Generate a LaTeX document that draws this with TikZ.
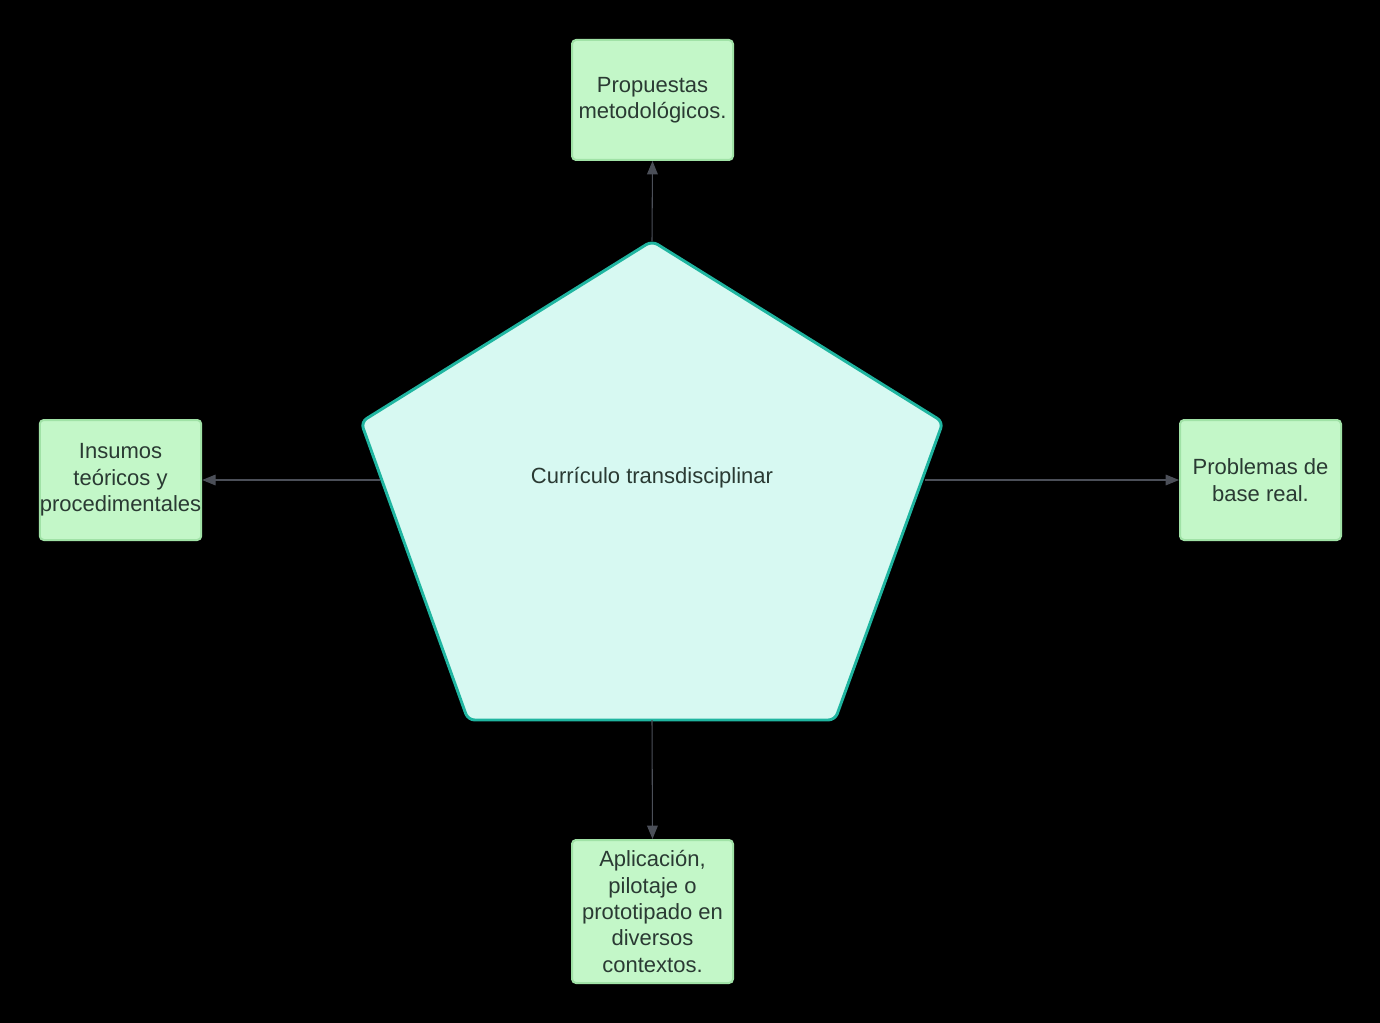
\documentclass[tikz,border=0pt]{standalone}
\usepackage{fontspec}
\setmainfont{Liberation Sans}
\usetikzlibrary{arrows.meta}
\definecolor{boxfill}{HTML}{C3F7C8}
\definecolor{boxline}{HTML}{A0E2A6}
\definecolor{pentfill}{HTML}{D7F9F2}
\definecolor{pentline}{HTML}{1FB5A0}
\definecolor{txt}{HTML}{2A3A33}
\definecolor{conn}{HTML}{4B4F58}
\tikzset{
  box/.style={draw=boxline, fill=boxfill, line width=1.5pt, rounded corners=3pt,
    minimum width=120.75pt, minimum height=90pt, inner sep=0pt, align=center,
    text=txt, font=\fontsize{16.5}{19.8}\selectfont},
  conn/.style={draw=conn, line width=0.8pt, -{Triangle[length=10pt,width=8pt]}},
}
\begin{document}
\begin{tikzpicture}[x=0.75pt,y=-0.75pt]
\fill[black] (0,0) rectangle (1380,1023);
\useasboundingbox (0,0) rectangle (1380,1023);
% pentagon
\coordinate (pA) at (652,241);
\coordinate (pB) at (943,422);
\coordinate (pC) at (835,720);
\coordinate (pD) at (468,720);
\coordinate (pE) at (361,422);
\filldraw[fill=pentfill, draw=pentline, line width=2.2pt, rounded corners=5pt, line join=round]
  (pA) -- (pB) -- (pC) -- (pD) -- (pE) -- cycle;
\node[text=txt, font=\fontsize{16.5}{19.8}\selectfont] (center) at (652,478) {Currículo transdisciplinar};
% connection points
\coordinate (ctop) at (652,241);
\coordinate (cbot) at (652,720);
\coordinate (cleft) at (380,480);
\coordinate (cright) at (925,480);
% boxes
\node[box] (top) at (652.5,100) {Propuestas\\metodológicos.};
\node[box] (left) at (120.5,480) {Insumos\\teóricos y\\procedimentales};
\node[box] (right) at (1260.5,480) {Problemas de\\base real.};
\node[box, minimum height=107.25pt] (bottom) at (652.5,911.5) {Aplicación,\\pilotaje o\\prototipado en\\diversos\\contextos.};
% connectors
\draw[conn] (ctop) -- (top.south);
\draw[conn] (cleft) -- (left.east);
\draw[conn] (cright) -- (right.west);
\draw[conn] (cbot) -- (bottom.north);
\end{tikzpicture}
\end{document}
